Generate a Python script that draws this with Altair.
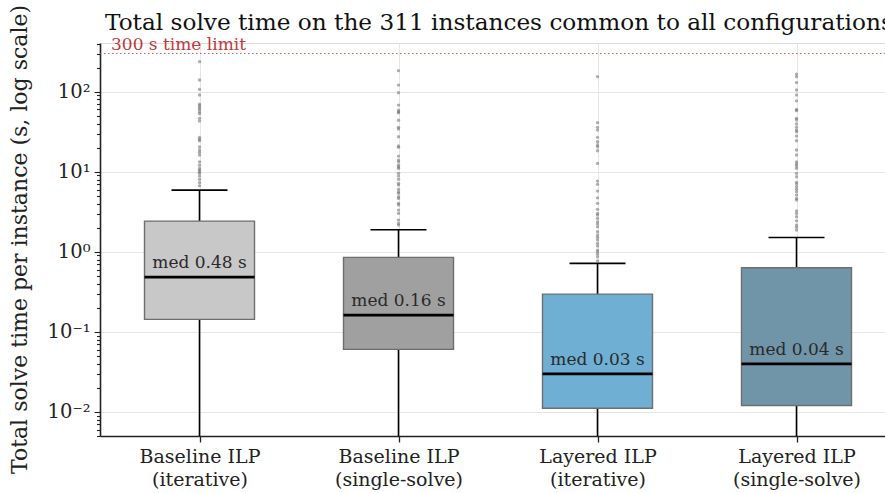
import altair as alt
import pandas as pd

# ---- data ----
configs = ["Baseline ILP (iterative)", "Baseline ILP (single-solve)",
           "Layered ILP (iterative)", "Layered ILP (single-solve)"]
label_line1 = ["Baseline ILP", "Baseline ILP", "Layered ILP", "Layered ILP"]
label_line2 = ["(iterative)", "(single-solve)", "(iterative)", "(single-solve)"]
positions = [1, 2, 3, 4]
q1 = [0.143, 0.0604, 0.0111, 0.0120]
median = [0.483, 0.162, 0.0299, 0.0398]
q3 = [2.42, 0.851, 0.296, 0.631]
whisk_lo = [0.003, 0.003, 0.003, 0.003]
whisk_hi = [5.9, 1.89, 0.716, 1.51]
med_labels = ["med 0.48 s", "med 0.16 s", "med 0.03 s", "med 0.04 s"]
box_colors = ["#c8c8c8", "#a0a0a0", "#6fafd4", "#7094a8"]

out_1 = [237, 140, 107, 91, 70, 67, 63, 60, 56, 53, 46.5, 43, 26.9, 25.4, 24.4,
         20.5, 18.7, 17.5, 16.2, 13.3, 12.1, 11.0, 10.5, 10.0, 9.55, 8.83, 8.04,
         7.29, 6.68]
out_2 = [183, 121, 97, 68, 59, 56, 54.6, 44, 35.9, 34.2, 27.4, 21, 20.2, 15.7, 14,
         13.3, 12.1, 11.5, 11, 9.55, 8.83, 8.04, 7.16, 6.82, 6.03, 5.62, 5.37, 4.87,
         4.65, 4.03, 3.84, 3.32, 3.02, 2.49, 2.26, 2.16]
out_3 = [154, 41, 35.9, 33.2, 26.9, 23.7, 21.6, 20.5, 18.3, 12.7, 7.65, 6.96, 5.74,
         4.73, 4.03, 3.39, 3.02, 2.88, 2.61, 2.37, 2.22, 2.05, 1.78, 1.62, 1.51, 1.40,
         1.27, 1.18, 1.05, 1.0, 0.935, 0.866, 0.772]
out_4 = [166, 154, 130, 105, 91, 77, 60, 57.9, 46.5, 44.3, 39.5, 35.9, 33.2, 31.6,
         27.9, 24.4, 18.7, 16.2, 13.3, 12.5, 11.8, 11.0, 9.55, 8.66, 7.37, 7.02, 6.49,
         6.03, 5.62, 5.11, 4.65, 4.43, 3.25, 3.02, 2.74, 2.44, 2.16, 2.02, 1.87]
outliers = [out_1, out_2, out_3, out_4]

time_limit = [300]
title_text = ["Total solve time on the 311 instances common to all configurations"]
y_title = ["Total solve time per instance (s, log scale)"]

# ---- tables ----
boxes = pd.DataFrame({
    "config": configs, "pos": positions, "q1": q1, "med": median, "q3": q3,
    "lo": whisk_lo, "hi": whisk_hi, "label": med_labels, "color": box_colors,
})
out_rows = []
for p, vals in zip(positions, outliers):
    for v in vals:
        out_rows.append({"pos": p, "value": v})
out_df = pd.DataFrame(out_rows)
limit_df = pd.DataFrame({"limit": time_limit, "text": ["300 s time limit"]})
title_df = pd.DataFrame({"t": title_text})
ytitle_df = pd.DataFrame({"t": y_title})

FONT = "DejaVu Serif"
W, H = 785, 393
YDOM = [0.005, 406]
XDOM = [0.5, 0.5 + W / 199.0]

xscale = alt.Scale(domain=XDOM, nice=False, zero=False)
yscale = alt.Scale(type="log", domain=YDOM, nice=False)

is_dec = "abs(log(datum.value)/LN10 - round(log(datum.value)/LN10)) < 0.001"
e = "round(log(datum.value)/LN10)"
y_label_expr = (f"({is_dec}) ? ({e} == 2 ? '10²' : {e} == 1 ? '10¹' : {e} == 0 ? '10⁰' : "
                f"{e} == -1 ? '10⁻¹' : {e} == -2 ? '10⁻²' : '10⁻³') : ''")
y_ticks = [k * 10.0 ** d for d in range(-3, 3) for k in range(1, 10)]
y_ticks = [t for t in y_ticks if YDOM[0] <= t <= YDOM[1]]

x_label_expr = " : ".join(
    f"datum.value == {p} ? ['{a}', '{b}']" for p, a, b in zip(positions, label_line1, label_line2)
) + " : ''"

x_axis = alt.Axis(values=positions, labelExpr=x_label_expr, title=None,
                  grid=True, gridColor="#e6e6e6", gridWidth=1,
                  domainColor="#222", domainWidth=1.6, tickColor="#222", tickSize=6,
                  tickWidth=1.3, labelFont=FONT, labelFontSize=19, labelColor="#222",
                  labelLineHeight=23, labelPadding=5)
y_axis = alt.Axis(values=y_ticks, labelExpr=y_label_expr, title=None,
                  labelOverlap=False, grid=True, gridColor="#e6e6e6",
                  gridOpacity={"condition": {"test": is_dec, "value": 1}, "value": 0},
                  tickSize={"condition": {"test": is_dec, "value": 6}, "value": 3.5},
                  domainColor="#222", domainWidth=1.6, tickColor="#222", tickWidth=1.1,
                  labelFont=FONT, labelFontSize=19.5, labelColor="#222", labelPadding=4)

base = alt.Chart(boxes)

axes_layer = base.mark_point(opacity=0).encode(
    x=alt.X("pos:Q", scale=xscale, axis=x_axis),
    y=alt.Y("med:Q", scale=yscale, axis=y_axis),
)

whisk_low = base.mark_rule(color="black", strokeWidth=1.6, clip=True).encode(
    x="pos:Q", y="lo:Q", y2="q1:Q")
whisk_high = base.mark_rule(color="black", strokeWidth=1.6).encode(
    x="pos:Q", y="hi:Q", y2="q3:Q")
caps = base.transform_calculate(cl="datum.pos - 0.1407", cr="datum.pos + 0.1407").mark_rule(
    color="black", strokeWidth=1.6).encode(x="cl:Q", x2="cr:Q", y="hi:Q")

box = base.transform_calculate(bl="datum.pos - 0.2764", br="datum.pos + 0.2764").mark_rect(
    stroke="#6e6e6e", strokeWidth=1.4, fillOpacity=1).encode(
    x="bl:Q", x2="br:Q", y="q1:Q", y2="q3:Q",
    fill=alt.Fill("color:N", scale=None))

med_line = base.transform_calculate(bl="datum.pos - 0.2764", br="datum.pos + 0.2764").mark_rule(
    color="black", strokeWidth=2.6).encode(x="bl:Q", x2="br:Q", y="med:Q")

med_text = base.mark_text(font=FONT, fontSize=17, color="#2a2a2a", baseline="bottom",
                          dy=-5).encode(x="pos:Q", y="med:Q", text="label:N")

points = alt.Chart(out_df).mark_circle(size=11, color="#606060", opacity=0.5).encode(
    x="pos:Q", y="value:Q")

limit_rule = alt.Chart(limit_df).mark_rule(color="#d0494b", strokeWidth=1.2,
                                           strokeDash=[1.5, 2.5], opacity=0.9).encode(
    y="limit:Q", x=alt.value(0), x2=alt.value(W))
limit_text = alt.Chart(limit_df).mark_text(font=FONT, fontSize=17, color="#c0393b",
                                           align="left", baseline="bottom", dy=0).encode(
    y="limit:Q", x=alt.value(11), text="text:N")

title_mark = alt.Chart(title_df).mark_text(
    font=FONT, fontSize=23.2, color="#111", align="left", baseline="alphabetic").encode(
    x=alt.value(5), y=alt.value(-13), text="t:N")

ytitle_mark = alt.Chart(ytitle_df).mark_text(
    font=FONT, fontSize=22, color="#222", align="center", baseline="alphabetic",
    angle=270).encode(x=alt.value(-73), y=alt.value(H / 2), text="t:N")

chart = alt.layer(
    axes_layer, limit_rule, whisk_low, whisk_high, caps, box, med_line, med_text,
    points, limit_text, title_mark, ytitle_mark,
).properties(
    width=W, height=H,
    autosize=alt.AutoSizeParams(type="none"),
    padding={"left": 100, "top": 43, "right": 0, "bottom": 57},
).configure_view(stroke=None).configure(background="white")

chart.save("out.html", embed_options={"renderer": "svg", "actions": False})
